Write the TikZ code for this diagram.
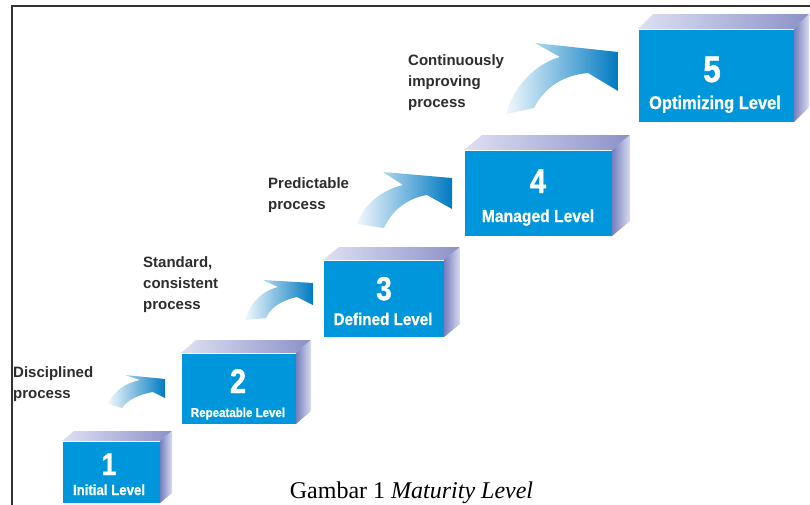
\documentclass[tikz,border=0pt]{standalone}
\usepackage{fontspec}
\setmainfont{Liberation Serif}
\newfontfamily\annfont{Liberation Sans}
\newfontfamily\labfont{Liberation Sans}[FakeStretch=0.9, FakeBold=0.8]
\newfontfamily\digfont{Liberation Sans}[FakeStretch=0.85, FakeBold=1.2]
\definecolor{boxblue}{RGB}{0,150,220}
\definecolor{topL}{RGB}{222,224,242}
\definecolor{topR}{RGB}{140,145,200}
\definecolor{sideL}{RGB}{118,126,190}
\definecolor{sideR}{RGB}{218,220,240}
\definecolor{arrL}{RGB}{242,248,253}
\definecolor{arrR}{RGB}{0,122,193}
\definecolor{notegray}{RGB}{45,45,45}
\definecolor{framegray}{RGB}{50,50,50}
\newcommand\cubebox[7]{%
  \node[frontface, minimum width={#4-#2}, minimum height={#5-#3}] (#1) at ({(#2+#4)/2},{(#3+#5)/2}) {};
  \shade[topface] (#1.north west) -- ([shift={(#6,#7)}]#1.north west) -- ([shift={(#6,#7)}]#1.north east) -- (#1.north east) -- cycle;
  \shade[sideface] (#1.north east) -- ([shift={(#6,#7)}]#1.north east) -- ([shift={(#6,#7)}]#1.south east) -- (#1.south east) -- cycle;
}
\begin{document}
\begin{tikzpicture}[x=1pt,y=-1pt,
  frontface/.style={fill=boxblue, draw=white, line width=0.8pt, inner sep=0pt, outer sep=0pt},
  topface/.style={left color=topL, right color=topR},
  sideface/.style={left color=sideL, right color=sideR},
  procarrow/.style={left color=arrL, right color=arrR},
  numtxt/.style={text=white, anchor=base, inner sep=0pt},
  lvltxt/.style={text=white, anchor=base, inner sep=0pt},
  note/.style={anchor=base west, inner sep=0pt, text=notegray, font=\annfont\bfseries\fontsize{15}{21}\selectfont},
  frame/.style={draw=framegray, line width=2.3pt}
]
\useasboundingbox (0,0) rectangle (810,504);
\fill[white] (0,0) rectangle (810,504);
% frame
\coordinate (fbl) at (12,505);
\coordinate (ftl) at (12,6);
\coordinate (ftr) at (811,6);
\draw[frame] (fbl) -- (ftl) -- (ftr);
% boxes
\cubebox{b1}{62}{441}{160}{503}{12}{-10}
\cubebox{b2}{181}{353}{296}{424}{15}{-13}
\cubebox{b3}{323}{260}{444}{337}{16}{-13}
\cubebox{b4}{464}{150}{612}{236}{18}{-15}
\cubebox{b5}{638}{29}{794}{122}{15}{-15}
% numbers and level names
\node[numtxt, font=\digfont\bfseries\fontsize{31}{31}\selectfont] (n1) at (109,475) {1};
\node[lvltxt, font=\labfont\bfseries\fontsize{14.7}{17}\selectfont] (l1) at (109,495) {Initial Level};
\node[numtxt, font=\digfont\bfseries\fontsize{34}{34}\selectfont] (n2) at (238,393) {2};
\node[lvltxt, font=\labfont\bfseries\fontsize{12.8}{15}\selectfont] (l2) at (238,417) {Repeatable Level};
\node[numtxt, font=\digfont\bfseries\fontsize{33}{33}\selectfont] (n3) at (384,300) {3};
\node[lvltxt, font=\labfont\bfseries\fontsize{16.9}{19}\selectfont] (l3) at (383,325) {Defined Level};
\node[numtxt, font=\digfont\bfseries\fontsize{34}{34}\selectfont] (n4) at (538,193) {4};
\node[lvltxt, font=\labfont\bfseries\fontsize{17.4}{20}\selectfont] (l4) at (538,222) {Managed Level};
\node[numtxt, font=\digfont\bfseries\fontsize{37}{37}\selectfont] (n5) at (712,82) {5};
\node[lvltxt, font=\labfont\bfseries\fontsize{18.3}{21}\selectfont] (l5) at (715,109) {Optimizing Level};
% curved arrows
\shade[procarrow] (108,404) .. controls (113,392) and (125,383) .. (140,380) -- (125,375) -- (165,379) -- (165,398) -- (153,392) .. controls (140,394) and (127,400) .. (122,408) -- cycle;
\shade[procarrow] (245,320) .. controls (250,303) and (262,291) .. (278,287) -- (263,280) -- (313,283) -- (313,305) -- (297,297) .. controls (282,300) and (270,308) .. (266,318) -- cycle;
\shade[procarrow] (357,224) .. controls (364,204) and (382,190) .. (403,185) -- (383,172) -- (452,178) -- (452,209) -- (427,195) .. controls (408,198) and (392,210) .. (384,228) -- cycle;
\shade[procarrow] (506,114) .. controls (514,86) and (535,64) .. (560,57) -- (535,43) -- (618,52) -- (618,91) -- (588,73) .. controls (565,75) and (545,86) .. (534,108) -- cycle;
% notes
\node[note] (t1) at (13,377) {\begin{tabular}[t]{@{}l@{}}Disciplined\\process\end{tabular}};
\node[note] (t2) at (143,267) {\begin{tabular}[t]{@{}l@{}}Standard,\\consistent\\process\end{tabular}};
\node[note] (t3) at (268,188) {\begin{tabular}[t]{@{}l@{}}Predictable\\process\end{tabular}};
\node[note] (t4) at (408,65) {\begin{tabular}[t]{@{}l@{}}Continuously\\improving\\process\end{tabular}};
% caption
\node[anchor=base, inner sep=0pt, font=\fontsize{24}{28}\selectfont] (cap) at (411.5,498) {Gambar 1 \textit{Maturity Level}};
\end{tikzpicture}
\end{document}
